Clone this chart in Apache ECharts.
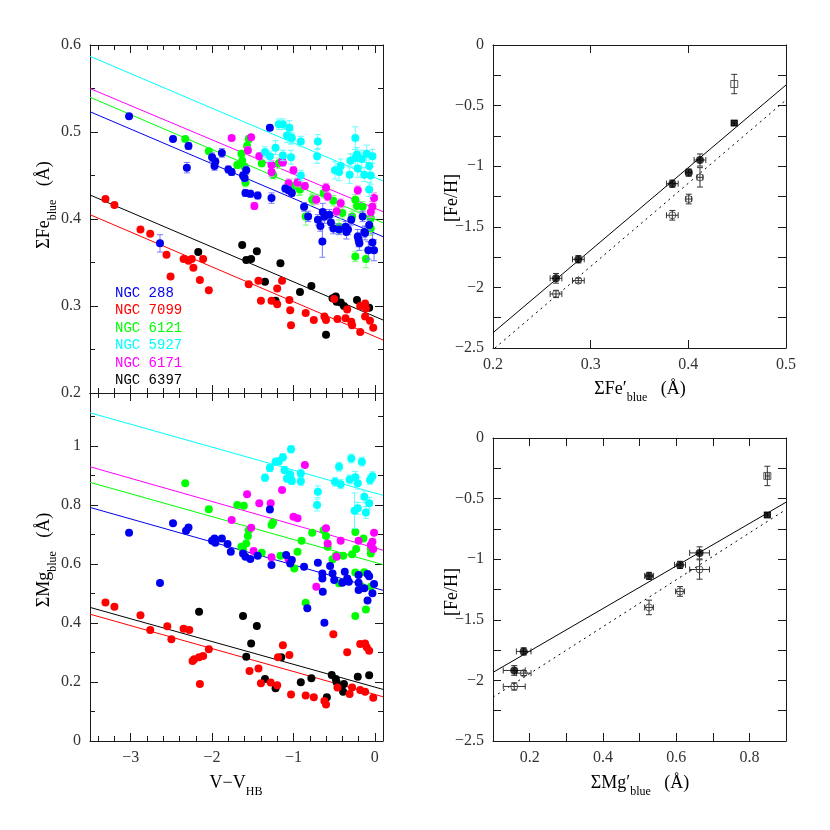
<!DOCTYPE html>
<html><head><meta charset="utf-8">
<script src="https://cdn.jsdelivr.net/npm/echarts@6/dist/echarts.min.js"></script>
<style>html,body{margin:0;padding:0;background:#fff}#c{width:830px;height:830px}</style>
</head><body><div id="c"></div>
<script>
// ---------- DATA: left panels, [V-V_HB, index, error] ----------
const clusterNames = ['NGC 288','NGC 7099','NGC 6121','NGC 5927','NGC 6171','NGC 6397'];

const feNGC288 = [[-3.02,0.518,0.002],[-2.64,0.372,0.010],[-2.48,0.492,0.003],[-2.31,0.459,0.006],[-2.29,0.484,0.004],[-2.00,0.471,0.005],[-1.96,0.466,0.004],[-1.97,0.461,0.005],[-1.88,0.476,0.005],[-1.80,0.457,0.004],[-1.76,0.454,0.004],[-1.58,0.456,0.005],[-1.62,0.450,0.004],[-1.60,0.447,0.004],[-1.59,0.430,0.004],[-1.53,0.429,0.004],[-1.44,0.427,0.004],[-1.27,0.424,0.006],[-1.29,0.505,0.003],[-1.10,0.435,0.004],[-1.06,0.433,0.004],[-1.02,0.430,0.004],[-0.87,0.414,0.005],[-0.82,0.403,0.006],[-0.70,0.399,0.006],[-0.64,0.408,0.010],[-0.62,0.403,0.008],[-0.67,0.392,0.006],[-0.645,0.374,0.018],[-0.56,0.405,0.006],[-0.54,0.396,0.006],[-0.51,0.389,0.006],[-0.44,0.388,0.006],[-0.36,0.391,0.006],[-0.35,0.385,0.008],[-0.33,0.388,0.006],[-0.29,0.399,0.006],[-0.21,0.380,0.008],[-0.20,0.376,0.008],[-0.19,0.372,0.008],[-0.15,0.403,0.006],[-0.12,0.384,0.008],[-0.13,0.385,0.006],[-0.07,0.393,0.006],[-0.03,0.373,0.010],[-0.08,0.364,0.010],[-0.01,0.364,0.012]];
const feNGC7099 = [[-3.31,0.423],[-3.20,0.416],[-2.88,0.388],[-2.76,0.383],[-2.56,0.359],[-2.51,0.334],[-2.35,0.354],[-2.29,0.352],[-2.25,0.354],[-2.23,0.344],[-2.11,0.354],[-2.15,0.330],[-2.04,0.318],[-1.55,0.325,0.002],[-1.43,0.329,0.002],[-1.40,0.306,0.002],[-1.27,0.306,0.002],[-1.20,0.302,0.003],[-1.20,0.320,0.003],[-1.14,0.329,0.002],[-1.05,0.307,0.003],[-1.04,0.295,0.003],[-1.03,0.278,0.003],[-0.85,0.292,0.003],[-0.75,0.284,0.003],[-0.62,0.288,0.003],[-0.60,0.284,0.003],[-0.46,0.285,0.003],[-0.50,0.308,0.003],[-0.34,0.296,0.003],[-0.36,0.286,0.003],[-0.29,0.282,0.003],[-0.28,0.278,0.003],[-0.18,0.270,0.004],[-0.12,0.303,0.004],[-0.11,0.297,0.004],[-0.12,0.288,0.004],[-0.06,0.283,0.003],[-0.02,0.275,0.003],[-0.18,0.300,0.003]];
const feNGC6121 = [[-2.33,0.492,0.003],[-2.04,0.478,0.003],[-1.69,0.462,0.004],[-1.63,0.467,0.004],[-1.64,0.475,0.004],[-1.55,0.492,0.004],[-1.59,0.442,0.005],[-1.57,0.484,0.004],[-1.60,0.460,0.004],[-1.39,0.464,0.004],[-1.25,0.451,0.005],[-1.18,0.464,0.006],[-0.99,0.438,0.008],[-0.93,0.435,0.008],[-0.92,0.434,0.006],[-0.85,0.403,0.010],[-0.77,0.422,0.006],[-0.76,0.423,0.006],[-0.63,0.430,0.006],[-0.51,0.421,0.006],[-0.44,0.391,0.008],[-0.40,0.407,0.006],[-0.28,0.403,0.006],[-0.24,0.422,0.006],[-0.22,0.415,0.006],[-0.15,0.414,0.006],[-0.05,0.401,0.006],[-0.05,0.389,0.008],[-0.24,0.357,0.006],[-0.11,0.354,0.010]];
const feNGC5927 = [[-1.35,0.477,0.006],[-1.29,0.472,0.006],[-1.22,0.482,0.008],[-1.18,0.509,0.006],[-1.13,0.509,0.006],[-1.05,0.505,0.008],[-1.08,0.496,0.008],[-1.02,0.493,0.006],[-1.03,0.494,0.008],[-1.13,0.473,0.006],[-1.03,0.471,0.008],[-0.91,0.489,0.006],[-0.91,0.450,0.006],[-0.70,0.489,0.008],[-0.71,0.472,0.008],[-0.49,0.456,0.010],[-0.44,0.454,0.010],[-0.42,0.461,0.008],[-0.31,0.451,0.010],[-0.30,0.467,0.008],[-0.24,0.493,0.013],[-0.24,0.470,0.010],[-0.22,0.474,0.008],[-0.21,0.458,0.010],[-0.16,0.469,0.010],[-0.10,0.475,0.010],[-0.13,0.451,0.008],[-0.07,0.461,0.010],[-0.03,0.472,0.008],[-0.05,0.450,0.010],[-0.07,0.434,0.008]];
const feNGC6171 = [[-1.76,0.493,0.003],[-1.52,0.494,0.003],[-1.56,0.479,0.004],[-1.42,0.472,0.004],[-1.48,0.415,0.004],[-1.27,0.462,0.005],[-1.27,0.454,0.005],[-1.13,0.465,0.004],[-1.14,0.466,0.004],[-1.00,0.456,0.004],[-1.06,0.441,0.005],[-0.95,0.442,0.005],[-0.86,0.438,0.004],[-0.72,0.422,0.005],[-0.60,0.436,0.005],[-0.58,0.426,0.005],[-0.47,0.409,0.005],[-0.42,0.418,0.005],[-0.21,0.433,0.005],[-0.01,0.424,0.006],[-0.03,0.414,0.006],[-0.05,0.408,0.006]];
const feNGC6397 = [[-2.17,0.362],[-1.63,0.370],[-1.58,0.353],[-1.52,0.354],[-1.45,0.363],[-1.16,0.349],[-1.35,0.328],[-1.22,0.306],[-0.92,0.316],[-0.78,0.323],[-0.52,0.309],[-0.48,0.311],[-0.47,0.305],[-0.42,0.304],[-0.38,0.300],[-0.22,0.307],[-0.07,0.298],[-0.60,0.267]];

const mgNGC288 = [[-3.02,0.706],[-2.64,0.536,0.015],[-2.48,0.738],[-2.29,0.724],[-2.32,0.713],[-2.00,0.679],[-1.97,0.687],[-1.96,0.672,0.008],[-1.88,0.687],[-1.81,0.668],[-1.77,0.642],[-1.62,0.636],[-1.59,0.625],[-1.53,0.617],[-1.44,0.628],[-1.29,0.785],[-1.27,0.597,0.01],[-1.09,0.631],[-1.04,0.602,0.01],[-1.02,0.614],[-0.87,0.591,0.01],[-0.70,0.604,0.015],[-0.645,0.568,0.02],[-0.645,0.551,0.02],[-0.64,0.506,0.03],[-0.62,0.401,0.05],[-0.83,0.450,0.01],[-0.55,0.593,0.01],[-0.52,0.568,0.015],[-0.50,0.546,0.01],[-0.40,0.537,0.015],[-0.37,0.574,0.01],[-0.34,0.551,0.015],[-0.32,0.540,0.01],[-0.20,0.563,0.015],[-0.20,0.537,0.015],[-0.20,0.512,0.015],[-0.13,0.518,0.02],[-0.09,0.566,0.015],[-0.07,0.559,0.015],[-0.01,0.532,0.015],[-0.03,0.501,0.015],[-0.09,0.476,0.015]];
const mgNGC7099 = [[-3.31,0.470],[-3.20,0.455],[-2.88,0.426],[-2.76,0.376],[-2.55,0.389],[-2.50,0.345],[-2.35,0.381],[-2.28,0.376],[-2.24,0.271],[-2.22,0.277],[-2.16,0.284],[-2.11,0.288],[-2.15,0.193],[-2.04,0.311],[-1.54,0.237],[-1.43,0.246],[-1.40,0.196],[-1.28,0.198],[-1.20,0.189],[-1.19,0.284],[-1.13,0.325],[-1.05,0.292],[-1.03,0.158],[-0.85,0.154,0.008],[-0.75,0.148],[-0.62,0.136],[-0.60,0.124],[-0.46,0.181],[-0.51,0.362],[-0.34,0.301],[-0.31,0.159],[-0.28,0.181],[-0.18,0.173],[-0.12,0.167,0.01],[-0.18,0.329],[-0.12,0.331],[-0.10,0.318],[-0.07,0.306,0.01],[-0.02,0.147]];
const mgNGC6121 = [[-2.33,0.874],[-2.04,0.786],[-1.69,0.800],[-1.61,0.798],[-1.64,0.659],[-1.55,0.715],[-1.56,0.695],[-1.58,0.670],[-1.62,0.650],[-1.39,0.638],[-1.27,0.732],[-1.25,0.741],[-1.16,0.628],[-0.99,0.585],[-0.95,0.642],[-0.90,0.679,0.01],[-0.77,0.706],[-0.63,0.715],[-0.60,0.695,0.01],[-0.58,0.659],[-0.52,0.616],[-0.48,0.628],[-0.39,0.628],[-0.28,0.633],[-0.24,0.709],[-0.23,0.651],[-0.14,0.687],[-0.05,0.636],[-0.05,0.653],[-0.24,0.571],[-0.44,0.535],[-0.85,0.469,0.03],[-0.24,0.424,0.015],[-0.11,0.446,0.02],[-0.13,0.572],[-0.16,0.523],[-0.05,0.523]];
const mgNGC5927 = [[-1.35,0.893,0.012],[-1.29,0.926,0.012],[-1.22,0.947,0.012],[-1.18,0.949,0.012],[-1.13,0.962,0.012],[-1.11,0.919,0.012],[-1.08,0.890,0.012],[-1.03,0.989,0.012],[-1.03,0.885,0.012],[-1.04,0.904,0.012],[-1.02,0.882,0.012],[-0.91,0.907,0.015],[-0.91,0.881,0.015],[-0.70,0.845,0.02],[-0.71,0.800,0.02],[-0.49,0.879,0.015],[-0.44,0.930,0.015],[-0.42,0.871,0.015],[-0.31,0.887,0.015],[-0.29,0.958,0.015],[-0.24,0.894,0.02],[-0.21,0.874,0.02],[-0.16,0.947,0.015],[-0.25,0.781,0.06],[-0.21,0.789,0.02],[-0.13,0.828,0.02],[-0.11,0.775,0.02],[-0.07,0.806,0.02],[-0.06,0.885,0.015],[-0.03,0.898,0.015]];
const mgNGC6171 = [[-0.86,0.936],[-1.14,0.851],[-1.57,0.837],[-1.42,0.806],[-1.28,0.806],[-1.76,0.749],[-1.52,0.723],[-1.00,0.760],[-0.95,0.755],[-1.49,0.644],[-1.27,0.623],[-1.06,0.616],[-0.60,0.721],[-0.58,0.670],[-0.42,0.679],[-0.47,0.625],[-0.20,0.679],[-0.01,0.706],[-0.03,0.676],[-0.02,0.651],[-0.72,0.523],[-0.05,0.665]];
const mgNGC6397 = [[-2.16,0.438],[-1.62,0.424],[-1.45,0.390],[-1.52,0.331],[-1.58,0.286],[-1.35,0.210],[-1.22,0.179],[-1.15,0.284],[-0.91,0.199],[-0.78,0.213],[-0.59,0.148],[-0.53,0.224],[-0.48,0.210],[-0.47,0.199],[-0.41,0.184],[-0.38,0.193],[-0.39,0.167],[-0.21,0.218],[-0.07,0.223]];

// fitted lines (endpoints, data units)
const feFit288 = [[-3.5,0.5233],[0.1,0.3797]];
const feFit7099 = [[-3.5,0.405],[0.1,0.2609]];
const feFit6121 = [[-3.5,0.540],[0.1,0.3956]];
const feFit5927 = [[-3.5,0.587],[0.1,0.4437]];
const feFit6171 = [[-3.5,0.550],[0.1,0.4084]];
const feFit6397 = [[-3.5,0.4276],[0.1,0.2839]];
const mgFit288 = [[-3.5,0.792],[0.1,0.511]];
const mgFit7099 = [[-3.5,0.430],[0.1,0.150]];
const mgFit6121 = [[-3.5,0.877],[0.1,0.598]];
const mgFit5927 = [[-3.5,1.113],[0.1,0.833]];
const mgFit6171 = [[-3.5,0.930],[0.1,0.647]];
const mgFit6397 = [[-3.5,0.453],[0.1,0.175]];

// ---------- DATA: right panels, [index, [Fe/H], xerr, yerr] ----------
const feFilled = [[0.2645,-1.925,0.006,0.04],[0.2874,-1.768,0.006,0.03],[0.3836,-1.144,0.006,0.03],[0.4004,-1.053,0.003,0.03],[0.4119,-0.949,0.006,0.05]];
const feFilledSq = [[0.447,-0.644,0.003,0.02]];
const feOpen = [[0.2645,-2.054,0.006,0.03],[0.2874,-1.944,0.006,0.02],[0.3836,-1.405,0.006,0.04],[0.4004,-1.271,0.003,0.04],[0.4119,-1.092,0.003,0.08]];
const feOpenSq = [[0.447,-0.322,0.0,0.08]];
const feLineSolid = [[0.2,-2.374],[0.5,-0.33]];
const feLineDotted = [[0.202,-2.5],[0.5,-0.454]];

const mgFilled = [[0.158,-1.918,0.03,0.04],[0.1838,-1.761,0.02,0.03],[0.526,-1.138,0.012,0.03],[0.6106,-1.047,0.015,0.03],[0.664,-0.948,0.027,0.05]];
const mgFilledSq = [[0.849,-0.635,0.008,0.02]];
const mgOpen = [[0.158,-2.05,0.03,0.03],[0.1838,-1.94,0.02,0.02],[0.526,-1.398,0.012,0.06],[0.6106,-1.266,0.012,0.04],[0.664,-1.085,0.027,0.08]];
const mgOpenSq = [[0.849,-0.313,0.005,0.08]];
const mgLineSolid = [[0.1,-1.934],[0.9,-0.530]];
const mgLineDotted = [[0.1,-2.138],[0.9,-0.590]];

// ---------- axis ranges, ticks and tick labels ----------
const leftXRange = [-3.5, 0.1];
const leftXMajor = [-3, -2, -1, 0];
const leftXMinor = [-3.4, -3.2, -2.8, -2.6, -2.4, -2.2, -1.8, -1.6, -1.4, -1.2, -0.8, -0.6, -0.4, -0.2];
const feYRange = [0.2, 0.6];
const feYMajor = [0.2, 0.3, 0.4, 0.5, 0.6];
const feYMinor = [0.25, 0.35, 0.45, 0.55];
const mgYRange = [0, 1.18];
const mgYMajor = [0, 0.2, 0.4, 0.6, 0.8, 1];
const mgYMinor = [0.1, 0.3, 0.5, 0.7, 0.9, 1.1];
const rFeXRange = [0.2, 0.5];
const rFeXTicks = [0.2, 0.3, 0.4, 0.5];
const rFeXLabels = [0.2, 0.3, 0.4, 0.5];
const rMgXRange = [0.1, 0.9];
const rMgXTicks = [0.2, 0.3, 0.4, 0.5, 0.6, 0.7, 0.8];
const rMgXLabels = [0.2, 0.4, 0.6, 0.8];
const feHRange = [-2.5, 0];
const feHTicks = [-2.25, -2, -1.75, -1.5, -1.25, -1, -0.75, -0.5, -0.25];
const feHLabels = [-2.5, -2, -1.5, -1, -0.5, 0];

// ---------- chart ----------
const colors = {'NGC 288':'#0000f0','NGC 7099':'#ff0000','NGC 6121':'#00ff00','NGC 5927':'#00ffff','NGC 6171':'#ff00ff','NGC 6397':'#000000'};
const errColors = {'NGC 288':'#7878ff','NGC 7099':'#ff8c8c','NGC 6121':'#7cff7c','NGC 5927':'#66ffff','NGC 6171':'#ff80ff','NGC 6397':'#555555'};
const feSets = {'NGC 288':feNGC288,'NGC 7099':feNGC7099,'NGC 6121':feNGC6121,'NGC 5927':feNGC5927,'NGC 6171':feNGC6171,'NGC 6397':feNGC6397};
const mgSets = {'NGC 288':mgNGC288,'NGC 7099':mgNGC7099,'NGC 6121':mgNGC6121,'NGC 5927':mgNGC5927,'NGC 6171':mgNGC6171,'NGC 6397':mgNGC6397};
const feFits = {'NGC 288':feFit288,'NGC 7099':feFit7099,'NGC 6121':feFit6121,'NGC 5927':feFit5927,'NGC 6171':feFit6171,'NGC 6397':feFit6397};
const mgFits = {'NGC 288':mgFit288,'NGC 7099':mgFit7099,'NGC 6121':mgFit6121,'NGC 5927':mgFit5927,'NGC 6171':mgFit6171,'NGC 6397':mgFit6397};

const SERIF = '"Liberation Serif","DejaVu Serif",serif';
const fmtNum = v => { const s = String(+(+v).toFixed(2)); return s.replace('-', '\u2212'); };
const AX = '#1a1a1a';

function mkAxis(grid, pos, range, ticks, labels, len, showLine) {
  return {
    type:'value', gridIndex:grid, position:pos, min:range[0], max:range[1],
    axisLine:{show:showLine, onZero:false, lineStyle:{color:AX, width:1}},
    axisTick:{show:true, inside:true, length:len, customValues:ticks, lineStyle:{color:AX}},
    minorTick:{show:false}, splitLine:{show:false},
    axisLabel: labels ? {show:true, customValues:labels, color:'#333', fontFamily:SERIF, fontSize:16, margin:9, formatter:fmtNum}
                      : {show:false}
  };
}

const grids = [
  {left:90, top:45, width:293, height:348},
  {left:90, top:393, width:293, height:348},
  {left:493, top:45, width:293, height:303},
  {left:493, top:438, width:293, height:303}
];
const xAxes = [], yAxes = [];
const mainX = [], mainY = [];
function addX(a) { xAxes.push(a); return xAxes.length - 1; }
function addY(a) { yAxes.push(a); return yAxes.length - 1; }
// left grids
[[0, feYRange, feYMajor, feYMinor, null], [1, mgYRange, mgYMajor, mgYMinor, leftXMajor]].forEach(([g, yr, yMaj, yMin, xLab]) => {
  mainX[g] = addX(mkAxis(g, 'bottom', leftXRange, leftXMajor, xLab, 8, true));
  addX(mkAxis(g, 'top', leftXRange, leftXMajor, null, 8, true));
  addX(mkAxis(g, 'bottom', leftXRange, leftXMinor, null, 5, false));
  addX(mkAxis(g, 'top', leftXRange, leftXMinor, null, 5, false));
  mainY[g] = addY(mkAxis(g, 'left', yr, yMaj, g === 0 ? feYMajor : mgYMajor, 8, true));
  addY(mkAxis(g, 'right', yr, yMaj, null, 8, true));
  addY(mkAxis(g, 'left', yr, yMin, null, 5, false));
  addY(mkAxis(g, 'right', yr, yMin, null, 5, false));
});
// right grids
[[2, rFeXRange, rFeXTicks, rFeXLabels], [3, rMgXRange, rMgXTicks, rMgXLabels]].forEach(([g, xr, xt, xl]) => {
  mainX[g] = addX(mkAxis(g, 'bottom', xr, xt, xl, 8, true));
  addX(mkAxis(g, 'top', xr, xt, null, 8, true));
  mainY[g] = addY(mkAxis(g, 'left', feHRange, feHTicks, feHLabels, 8, true));
  addY(mkAxis(g, 'right', feHRange, feHTicks, null, 8, true));
});

function errV(color) {
  return function (params, api) {
    const x = api.value(0), y = api.value(1), e = api.value(2);
    if (!e) return null;
    const a = api.coord([x, y - e]), b = api.coord([x, y + e]);
    const st = {stroke: color, lineWidth: 1};
    return {type:'group', children:[
      {type:'line', shape:{x1:a[0],y1:a[1],x2:b[0],y2:b[1]}, style:st},
      {type:'line', shape:{x1:a[0]-3,y1:a[1],x2:a[0]+3,y2:a[1]}, style:st},
      {type:'line', shape:{x1:b[0]-3,y1:b[1],x2:b[0]+3,y2:b[1]}, style:st}
    ]};
  };
}
function errXY(color) {
  return function (params, api) {
    const x = api.value(0), y = api.value(1), ex = api.value(2), ey = api.value(3);
    const st = {stroke: color, lineWidth: 1};
    const ch = [];
    if (ey) {
      const a = api.coord([x, y - ey]), b = api.coord([x, y + ey]);
      ch.push({type:'line', shape:{x1:a[0],y1:a[1],x2:b[0],y2:b[1]}, style:st},
        {type:'line', shape:{x1:a[0]-3,y1:a[1],x2:a[0]+3,y2:a[1]}, style:st},
        {type:'line', shape:{x1:b[0]-3,y1:b[1],x2:b[0]+3,y2:b[1]}, style:st});
    }
    if (ex) {
      const a = api.coord([x - ex, y]), b = api.coord([x + ex, y]);
      ch.push({type:'line', shape:{x1:a[0],y1:a[1],x2:b[0],y2:b[1]}, style:st},
        {type:'line', shape:{x1:a[0],y1:a[1]-3,x2:a[0],y2:a[1]+3}, style:st},
        {type:'line', shape:{x1:b[0],y1:b[1]-3,x2:b[0],y2:b[1]+3}, style:st});
    }
    return {type:'group', children:ch};
  };
}

const series = [];
const drawOrder = ['NGC 6397','NGC 7099','NGC 6121','NGC 6171','NGC 5927','NGC 288'];
[[0, feSets, feFits], [1, mgSets, mgFits]].forEach(([g, sets, fits]) => {
  const xi = mainX[g], yi = mainY[g];
  drawOrder.forEach(n => {
    series.push({type:'line', xAxisIndex:xi, yAxisIndex:yi, data:fits[n], showSymbol:false, symbol:'none',
      lineStyle:{color:colors[n], width:1}, z:1, silent:true});
  });
  drawOrder.forEach((n, k) => {
    series.push({type:'custom', xAxisIndex:xi, yAxisIndex:yi, data:sets[n], renderItem:errV(errColors[n]),
      encode:{x:0, y:1}, z:2+k*2, silent:true});
    series.push({type:'scatter', xAxisIndex:xi, yAxisIndex:yi, data:sets[n].map(d => [d[0], d[1]]),
      symbol:'circle', symbolSize:8, itemStyle:{color:colors[n], opacity:1}, z:3+k*2, silent:true});
  });
});
[[2, feFilled, feFilledSq, feOpen, feOpenSq, feLineSolid, feLineDotted],
 [3, mgFilled, mgFilledSq, mgOpen, mgOpenSq, mgLineSolid, mgLineDotted]].forEach(([g, fd, fs, od, os, ls, ld]) => {
  const xi = mainX[g], yi = mainY[g];
  series.push({type:'line', xAxisIndex:xi, yAxisIndex:yi, data:ls, symbol:'none', lineStyle:{color:'#000', width:1}, z:1, silent:true});
  series.push({type:'line', xAxisIndex:xi, yAxisIndex:yi, data:ld, symbol:'none', lineStyle:{color:'#000', width:1, type:[2,4]}, z:1, silent:true});
  [fd, fs, od, os].forEach(d => series.push({type:'custom', xAxisIndex:xi, yAxisIndex:yi, data:d, renderItem:errXY('#333'), encode:{x:0,y:1}, z:2, silent:true}));
  series.push({type:'scatter', xAxisIndex:xi, yAxisIndex:yi, data:fd.map(d=>[d[0],d[1]]), symbol:'circle', symbolSize:8, itemStyle:{color:'#000'}, z:4, silent:true});
  series.push({type:'scatter', xAxisIndex:xi, yAxisIndex:yi, data:fs.map(d=>[d[0],d[1]]), symbol:'rect', symbolSize:7, itemStyle:{color:'#000'}, z:4, silent:true});
  series.push({type:'scatter', xAxisIndex:xi, yAxisIndex:yi, data:od.map(d=>[d[0],d[1]]), symbol:'circle', symbolSize:7, itemStyle:{color:'rgba(0,0,0,0)', borderColor:'#333', borderWidth:1}, z:4, silent:true});
  series.push({type:'scatter', xAxisIndex:xi, yAxisIndex:yi, data:os.map(d=>[d[0],d[1]]), symbol:'rect', symbolSize:7, itemStyle:{color:'rgba(0,0,0,0)', borderColor:'#333', borderWidth:1}, z:4, silent:true});
});

// text: titles and legend
const titleRich = {
  a:{fontFamily:SERIF, fontSize:18, color:'#111', verticalAlign:'bottom', padding:[0,0,6,0]},
  s:{fontFamily:SERIF, fontSize:12, color:'#111', verticalAlign:'bottom', padding:[0,0,0,0]}
};
function title(x, y, text, rot) {
  return {type:'text', x:x, y:y, rotation: rot ? Math.PI/2 : 0, z:100, silent:true,
    style:{text:text, rich:titleRich, align:'center', verticalAlign:'middle'}};
}
const graphics = [
  title(47, 205, '{a|\u03A3Fe}{s|blue}{a|   (\u00C5)}', true),
  title(47, 560, '{a|\u03A3Mg}{s|blue}{a|   (\u00C5)}', true),
  title(236, 786, '{a|V\u2212V}{s|HB}', false),
  title(455, 198, '{a|[Fe/H]}', true),
  title(455, 592, '{a|[Fe/H]}', true),
  title(640, 392, '{a|\u03A3Fe\u2032}{s|blue}{a|   (\u00C5)}', false),
  title(640, 786, '{a|\u03A3Mg\u2032}{s|blue}{a|   (\u00C5)}', false)
];
const legendY = [293, 310.5, 328, 345.5, 363, 380.5];
clusterNames.forEach((n, i) => graphics.push({type:'text', x:115, y:legendY[i], z:100, silent:true,
  style:{text:n, fill:colors[n], font:'14px "Liberation Mono","DejaVu Sans Mono",monospace', align:'left', verticalAlign:'middle'}}));

const chart = echarts.init(document.getElementById('c'), null, {renderer:'canvas'});
chart.setOption({
  animation:false, backgroundColor:'#fff',
  grid:grids, xAxis:xAxes, yAxis:yAxes, series:series, graphic:graphics
});
</script></body></html>
